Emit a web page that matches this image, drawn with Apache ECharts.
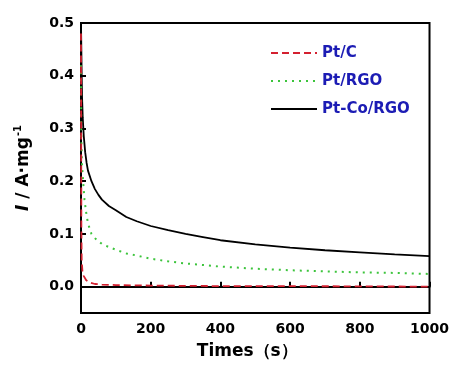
<!DOCTYPE html>
<html>
<head>
<meta charset="utf-8">
<script src="https://cdn.jsdelivr.net/npm/echarts@6/dist/echarts.min.js"></script>
<style>html,body{margin:0;padding:0;background:#fff}#c{width:452px;height:365px}</style>
</head>
<body>
<div id="c"></div>
<script>
const seriesNames = ['Pt/C', 'Pt/RGO', 'Pt-Co/RGO'];
const yTicks = [0.0, 0.1, 0.2, 0.3, 0.4, 0.5];
const xTicks = [0, 200, 400, 600, 800, 1000];

const ptcT = [0, 1, 2, 4, 8, 15, 25, 40, 60, 100, 200, 400, 600, 800, 1000];
const ptcI = [0.48, 0.12, 0.05, 0.03, 0.02, 0.012, 0.008, 0.005, 0.004, 0.003, 0.002, 0.001, 0.001, 0.0005, 0.0];

const ptrgoT = [0, 1, 3, 6, 10, 15, 20, 30, 40, 50, 60, 80, 100, 130, 160, 200, 250, 300, 350, 400, 500, 600, 700, 800, 900, 1000];
const ptrgoI = [0.42, 0.28, 0.23, 0.20, 0.165, 0.14, 0.12, 0.10, 0.092, 0.086, 0.081, 0.075, 0.070, 0.063, 0.059, 0.053, 0.048, 0.044, 0.041, 0.038, 0.034, 0.031, 0.029, 0.027, 0.026, 0.024];

const ptcoT = [0, 1, 2, 3, 5, 8, 12, 16, 20, 30, 40, 50, 60, 80, 100, 130, 160, 200, 250, 300, 350, 400, 500, 600, 700, 800, 900, 1000];
const ptcoI = [0.50, 0.45, 0.40, 0.36, 0.32, 0.285, 0.255, 0.235, 0.22, 0.20, 0.185, 0.174, 0.165, 0.153, 0.145, 0.132, 0.124, 0.115, 0.107, 0.100, 0.094, 0.088, 0.080, 0.074, 0.069, 0.065, 0.061, 0.058];

const pair = (t, v) => t.map((x, i) => [x, v[i]]);
const FONT = '"DejaVu Sans", sans-serif';

const chart = echarts.init(document.getElementById('c'), null, {renderer: 'canvas'});
chart.setOption({
  animation: false,
  backgroundColor: '#fff',
  grid: {left: 81, right: 22, top: 23, bottom: 51, show: true, borderColor: '#000', borderWidth: 2, containLabel: false},
  legend: {
    orient: 'vertical', left: 265, top: 39, itemWidth: 46, itemHeight: 14, itemGap: 10,
    data: seriesNames,
    itemStyle: {opacity: 0},
    textStyle: {fontFamily: FONT, fontWeight: 'bold', fontSize: 15, color: '#1c1cb4', lineHeight: 18}
  },
  xAxis: {
    type: 'value', min: 0, max: 1000, interval: 200,
    name: 'Times（s）', nameLocation: 'middle', nameGap: 30,
    nameTextStyle: {fontFamily: FONT, fontWeight: 'bold', fontSize: 17, color: '#000', padding: [0, 16, 0, 0]},
    axisLine: {lineStyle: {color: '#000', width: 2}},
    axisTick: {inside: true, length: 5, lineStyle: {width: 2, color: '#000'}},
    axisLabel: {fontFamily: FONT, fontWeight: 'bold', fontSize: 14, color: '#000', margin: 9, customValues: xTicks,
      formatter: v => String(v)},
    splitLine: {show: false}
  },
  yAxis: {
    type: 'value', min: -0.05, max: 0.5,
    name: '{i|I} {n|/ A·mg}{s|-1}', nameLocation: 'middle', nameGap: 46,
    nameTextStyle: {
      fontFamily: FONT, fontWeight: 'bold', fontSize: 17, color: '#000',
      rich: {
        i: {fontFamily: FONT, fontStyle: 'italic', fontWeight: 'bold', fontSize: 17, color: '#000'},
        n: {fontFamily: FONT, fontWeight: 'bold', fontSize: 17, color: '#000'},
        s: {fontFamily: FONT, fontWeight: 'bold', fontSize: 10, color: '#000', padding: [0, 0, 12, 1]}
      }
    },
    axisLine: {lineStyle: {color: '#000', width: 2}},
    axisTick: {inside: true, length: 5, lineStyle: {width: 2, color: '#000'}, customValues: yTicks},
    axisLabel: {fontFamily: FONT, fontWeight: 'bold', fontSize: 14, color: '#000', margin: 7, customValues: yTicks,
      formatter: v => v.toFixed(1)},
    splitLine: {show: false}
  },
  series: [
    {name: seriesNames[0], type: 'line', data: pair(ptcT, ptcI), symbol: 'none', smooth: false,
     lineStyle: {color: '#d42030', width: 1.8, type: [7, 4]}, itemStyle: {color: '#d42030'}, z: 3},
    {name: seriesNames[1], type: 'line', data: pair(ptrgoT, ptrgoI), symbol: 'none', smooth: false,
     lineStyle: {color: '#3cc43c', width: 2, type: [2, 5]}, itemStyle: {color: '#3cc43c'}, z: 2},
    {name: seriesNames[2], type: 'line', data: pair(ptcoT, ptcoI), symbol: 'none', smooth: false,
     lineStyle: {color: '#000', width: 1.8, type: 'solid'}, itemStyle: {color: '#000'}, z: 1}
  ]
});
</script>
</body>
</html>
